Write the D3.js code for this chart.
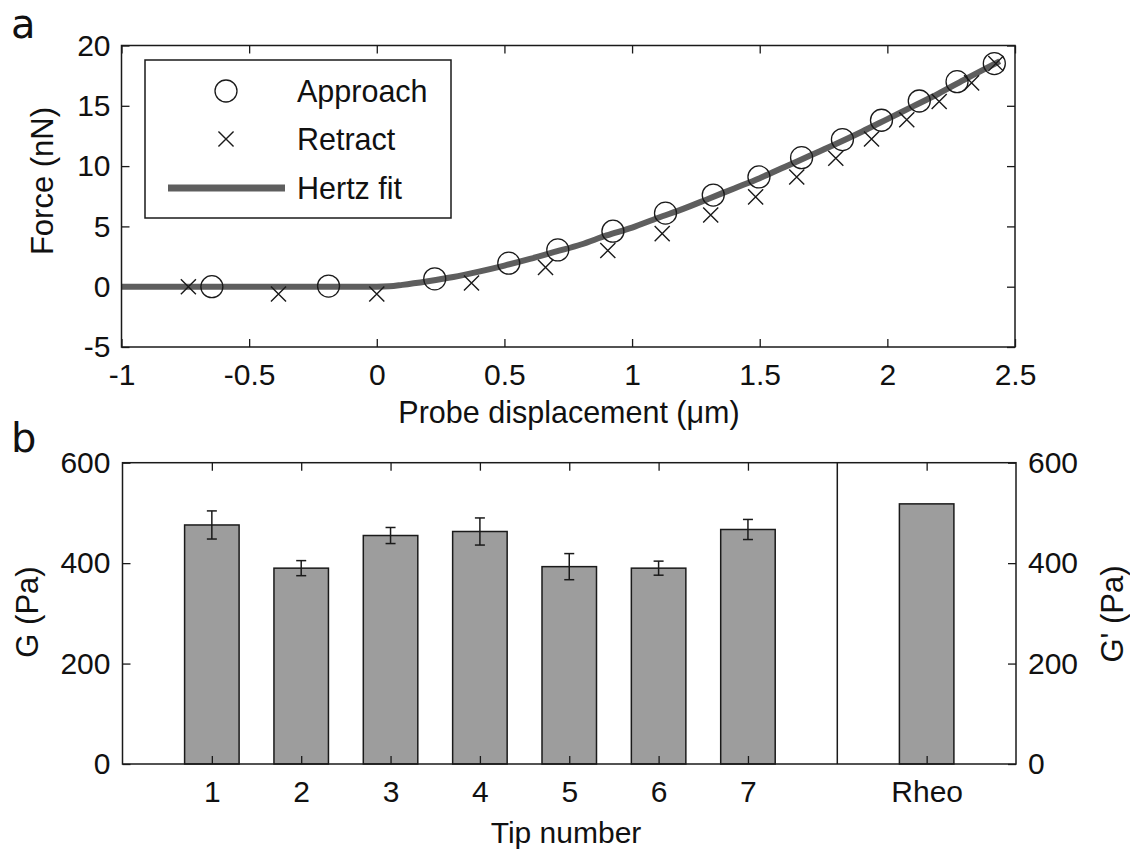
<!DOCTYPE html>
<html>
<head>
<meta charset="utf-8">
<script src="https://cdn.jsdelivr.net/npm/d3@7"></script>
<style>
  html, body { margin: 0; padding: 0; background: #fff; }
  svg text { font-family: "Liberation Sans", Arial, Helvetica, sans-serif; fill: #111; }
</style>
</head>
<body>
<svg id="fig" width="1130" height="850"></svg>
<script>
// ---- panel a: force curve ----
const approachX = [-0.646, -0.189, 0.227, 0.517, 0.709, 0.925, 1.131, 1.318, 1.497, 1.664, 1.824, 1.977, 2.125, 2.273, 2.419];
const approachF = [0.0, 0.05, 0.65, 1.95, 3.05, 4.6, 6.1, 7.6, 9.1, 10.7, 12.2, 13.8, 15.4, 17.0, 18.5];
const retractX = [-0.738, -0.385, 0.0, 0.371, 0.661, 0.905, 1.118, 1.308, 1.484, 1.645, 1.798, 1.938, 2.076, 2.203, 2.330, 2.425];
const retractF = [0.0, -0.6, -0.6, 0.3, 1.6, 3.0, 4.4, 5.95, 7.45, 9.1, 10.65, 12.25, 13.85, 15.35, 16.9, 18.5];
const fitX = [-1, -0.5, 0, 0.05, 0.1, 0.2, 0.3, 0.4, 0.5, 0.6, 0.7, 0.8, 0.9, 1.0, 1.1, 1.2, 1.3, 1.4, 1.5, 1.6, 1.7, 1.8, 1.9, 2.0, 2.1, 2.2, 2.3, 2.44];
const fitF = [0, 0, 0, 0.03, 0.15, 0.45, 0.8, 1.25, 1.75, 2.3, 2.9, 3.5, 4.25, 4.9, 5.7, 6.45, 7.3, 8.15, 9.0, 9.95, 10.9, 11.85, 12.85, 13.9, 14.95, 16.0, 17.15, 18.7];
const forceXTicks = [-1, -0.5, 0, 0.5, 1, 1.5, 2, 2.5];
const forceYTicks = [-5, 0, 5, 10, 15, 20];
const legendLabels = ["Approach", "Retract", "Hertz fit"];

// ---- panel b: shear modulus per tip ----
const tipLabels = ["1", "2", "3", "4", "5", "6", "7"];
const tipG = [476, 390, 455, 463, 393, 390, 467];
const tipErr = [28, 15, 16, 27, 26, 14, 20];
const rheoLabel = "Rheo";
const rheoG = 518;
const modulusTicks = [0, 200, 400, 600];

const svg = d3.select("#fig");
const ink = "#1a1a1a";
const tick = 8;
const plain = d => String(d);

function styleAxis(g) {
  g.selectAll("path.domain").remove();
  g.selectAll(".tick line").attr("stroke", ink).attr("stroke-width", 1.3);
  g.selectAll(".tick text").style("font-size", "30px").attr("fill", "#111");
}

// ================= panel a =================
const A = { left: 121.5, right: 1015, top: 45.5, bottom: 347 };
const xa = d3.scaleLinear().domain([-1, 2.5]).range([A.left, A.right]);
const ya = d3.scaleLinear().domain([-5, 20]).range([A.bottom, A.top]);

const ga = svg.append("g");

ga.append("g").attr("transform", `translate(0,${A.bottom})`)
  .call(d3.axisBottom(xa).tickValues(forceXTicks).tickFormat(plain).tickSize(-tick).tickPadding(17))
  .call(styleAxis);
ga.append("g").attr("transform", `translate(0,${A.top})`)
  .call(d3.axisTop(xa).tickValues(forceXTicks).tickFormat("").tickSize(-tick))
  .call(styleAxis);
ga.append("g").attr("transform", `translate(${A.left},0)`)
  .call(d3.axisLeft(ya).tickValues(forceYTicks).tickFormat(plain).tickSize(-tick).tickPadding(11))
  .call(styleAxis);
ga.append("g").attr("transform", `translate(${A.right},0)`)
  .call(d3.axisRight(ya).tickValues(forceYTicks).tickFormat("").tickSize(-tick))
  .call(styleAxis);
ga.selectAll(".tick text").filter(function () { return this.textContent === ""; }).remove();

// Hertz fit curve
const fitLine = d3.line().x(d => xa(d[0])).y(d => ya(d[1])).curve(d3.curveMonotoneX);
ga.append("path")
  .datum(d3.zip(fitX, fitF))
  .attr("d", fitLine)
  .attr("fill", "none")
  .attr("stroke", "#5e5e5e")
  .attr("stroke-width", 6);

// approach circles
ga.append("g").selectAll("circle")
  .data(d3.zip(approachX, approachF))
  .join("circle")
  .attr("cx", d => xa(d[0]))
  .attr("cy", d => ya(d[1]))
  .attr("r", 11)
  .attr("fill", "none")
  .attr("stroke", ink)
  .attr("stroke-width", 1.3);

// retract crosses
const cross = d3.symbol().type(d3.symbolX).size(150);
ga.append("g").selectAll("path")
  .data(d3.zip(retractX, retractF))
  .join("path")
  .attr("d", cross)
  .attr("transform", d => `translate(${xa(d[0])},${ya(d[1])})`)
  .attr("fill", "none")
  .attr("stroke", ink)
  .attr("stroke-width", 1.4);

// frame
ga.append("rect")
  .attr("x", A.left).attr("y", A.top)
  .attr("width", A.right - A.left).attr("height", A.bottom - A.top)
  .attr("fill", "none").attr("stroke", ink).attr("stroke-width", 1.5);

// legend
const lg = ga.append("g");
lg.append("rect").attr("x", 145).attr("y", 60).attr("width", 306).attr("height", 158)
  .attr("fill", "#fff").attr("stroke", ink).attr("stroke-width", 1.5);
lg.append("circle").attr("cx", 226).attr("cy", 91).attr("r", 11)
  .attr("fill", "none").attr("stroke", ink).attr("stroke-width", 1.3);
lg.append("path").attr("d", cross).attr("transform", "translate(226,139)")
  .attr("fill", "none").attr("stroke", ink).attr("stroke-width", 1.4);
lg.append("line").attr("x1", 168).attr("x2", 285).attr("y1", 188).attr("y2", 188)
  .attr("stroke", "#5e5e5e").attr("stroke-width", 7);
lg.selectAll("text.lab").data(legendLabels).join("text")
  .attr("class", "lab")
  .attr("x", 297)
  .attr("y", (d, i) => 91 + i * 48.5)
  .attr("dy", "0.36em")
  .style("font-size", "30.5px")
  .text(d => d);

// axis titles
ga.append("text")
  .attr("x", 569).attr("y", 423)
  .attr("text-anchor", "middle")
  .style("font-size", "30.5px")
  .text("Probe displacement (μm)");
ga.append("text")
  .attr("transform", "translate(53,181) rotate(-90)")
  .attr("text-anchor", "middle")
  .style("font-size", "31px")
  .text("Force (nN)");
ga.append("text")
  .attr("x", 11).attr("y", 38)
  .style("font-family", "'DejaVu Sans', sans-serif")
  .style("font-size", "40px")
  .text("a");

// ================= panel b =================
const B = { left: 122.5, right: 1016, top: 462.7, bottom: 764 };
const xb = d3.scaleLinear().domain([0, 10]).range([B.left, B.right]);
const yb = d3.scaleLinear().domain([0, 600]).range([B.bottom, B.top]);
const tipPos = tipLabels.map((d, i) => i + 1);
const rheoPos = tipLabels.length + 2;
const catPos = tipPos.concat([rheoPos]);
const catLabels = tipLabels.concat([rheoLabel]);
const barW = xb(0.61) - xb(0);

const gb = svg.append("g");

// bars
const barData = tipPos.map((p, i) => ({ p, v: tipG[i], e: tipErr[i] }));
gb.append("g").selectAll("rect")
  .data(barData.concat([{ p: rheoPos, v: rheoG, e: 0 }]))
  .join("rect")
  .attr("x", d => xb(d.p) - barW / 2)
  .attr("y", d => yb(d.v))
  .attr("width", barW)
  .attr("height", d => yb(0) - yb(d.v))
  .attr("fill", "#9d9d9d")
  .attr("stroke", ink)
  .attr("stroke-width", 1.5);

// error bars
const eb = gb.append("g").attr("stroke", ink).attr("stroke-width", 1.5);
eb.selectAll("line.v").data(barData).join("line").attr("class", "v")
  .attr("x1", d => xb(d.p)).attr("x2", d => xb(d.p))
  .attr("y1", d => yb(d.v + d.e)).attr("y2", d => yb(d.v - d.e));
eb.selectAll("line.t").data(barData).join("line").attr("class", "t")
  .attr("x1", d => xb(d.p) - 5).attr("x2", d => xb(d.p) + 5)
  .attr("y1", d => yb(d.v + d.e)).attr("y2", d => yb(d.v + d.e));
eb.selectAll("line.b").data(barData).join("line").attr("class", "b")
  .attr("x1", d => xb(d.p) - 5).attr("x2", d => xb(d.p) + 5)
  .attr("y1", d => yb(d.v - d.e)).attr("y2", d => yb(d.v - d.e));

// axes
gb.append("g").attr("transform", `translate(0,${B.bottom})`)
  .call(d3.axisBottom(xb).tickValues(catPos).tickFormat((d, i) => catLabels[i]).tickSize(-tick).tickPadding(17))
  .call(styleAxis);
gb.append("g").attr("transform", `translate(0,${B.top})`)
  .call(d3.axisTop(xb).tickValues(catPos).tickFormat("").tickSize(-tick))
  .call(styleAxis);
gb.append("g").attr("transform", `translate(${B.left},0)`)
  .call(d3.axisLeft(yb).tickValues(modulusTicks).tickFormat(plain).tickSize(-tick).tickPadding(12))
  .call(styleAxis);
gb.append("g").attr("transform", `translate(${B.right},0)`)
  .call(d3.axisRight(yb).tickValues(modulusTicks).tickFormat(plain).tickSize(-tick).tickPadding(12))
  .call(styleAxis);
gb.selectAll(".tick text").filter(function () { return this.textContent === ""; }).remove();

// frame and separator
gb.append("rect")
  .attr("x", B.left).attr("y", B.top)
  .attr("width", B.right - B.left).attr("height", B.bottom - B.top)
  .attr("fill", "none").attr("stroke", ink).attr("stroke-width", 1.5);
gb.append("line")
  .attr("x1", xb(tipLabels.length + 1)).attr("x2", xb(tipLabels.length + 1))
  .attr("y1", B.top).attr("y2", B.bottom)
  .attr("stroke", ink).attr("stroke-width", 1.5);

// titles
gb.append("text")
  .attr("x", 566).attr("y", 843)
  .attr("text-anchor", "middle")
  .style("font-size", "30px")
  .text("Tip number");
gb.append("text")
  .attr("transform", "translate(38,612) rotate(-90)")
  .attr("text-anchor", "middle")
  .style("font-size", "31px")
  .text("G (Pa)");
gb.append("text")
  .attr("transform", "translate(1123,614) rotate(-90)")
  .attr("text-anchor", "middle")
  .style("font-size", "31px")
  .text("G' (Pa)");
gb.append("text")
  .attr("x", 11).attr("y", 452)
  .style("font-family", "'DejaVu Sans', sans-serif")
  .style("font-size", "40px")
  .text("b");
</script>
</body>
</html>
